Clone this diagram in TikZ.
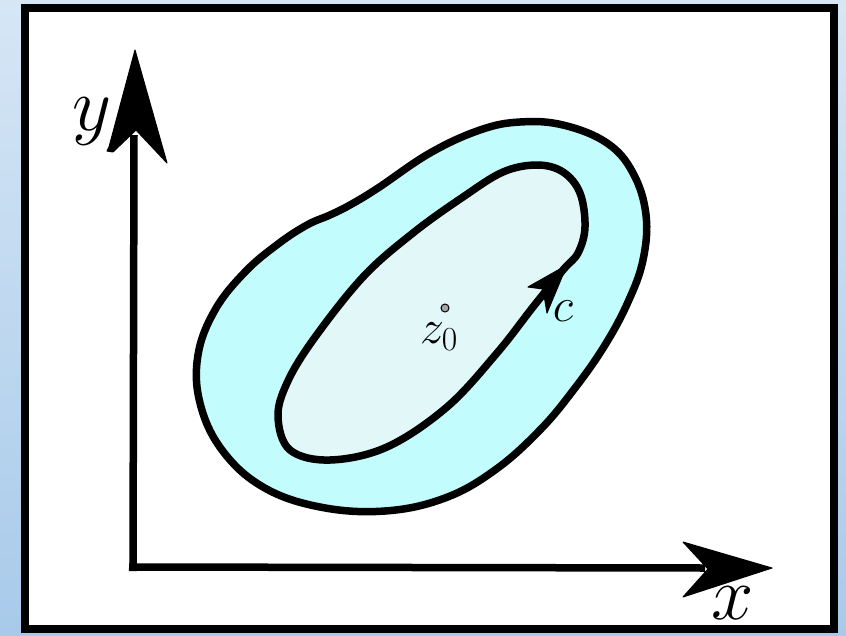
\documentclass[tikz,border=0pt]{standalone}
\usepackage{fix-cm}
\definecolor{bgtop}{RGB}{214,230,245}
\definecolor{bgbot}{RGB}{168,202,234}
\definecolor{bandfill}{RGB}{194,252,252}
\definecolor{corefill}{RGB}{226,247,248}
\tikzset{
  blob/.style={draw=black, line width=7.5pt, line join=round},
  axis/.style={draw=black, line width=7.5pt},
  head/.style={fill=black, draw=black, line width=1pt, line join=round},
  lbl/.style={inner sep=0pt, outer sep=0pt}
}
\begin{document}
\begin{tikzpicture}[x=1pt,y=-1pt]
\useasboundingbox (0,0) rectangle (846,635);
\shade[top color=bgtop, bottom color=bgbot] (0,0) rectangle (846,635);
\draw[line width=8pt, fill=white] (24.5,8) rectangle (833.5,629);
% outer region
\path[blob, fill=bandfill] plot[smooth cycle, tension=0.65] coordinates {
 (307,225) (330,215) (350,205) (378,188) (430,153) (480,130) (520,122) (563,125)
 (607,143) (633,173) (646,215) (643,260) (628,302) (605,345) (575,388) (540,430)
 (495,470) (445,498) (385,511) (320,507) (263,487) (222,450) (200,403) (198,355)
 (215,310) (245,272) (278,244)};
% inner contour c
\path[blob, fill=corefill] plot[smooth cycle, tension=0.6] coordinates {
 (537,165) (563,172) (580,193) (585,227) (578,253) (563,270) (533,307) (497,353)
 (447,407) (387,447) (330,460) (290,450) (278,417) (287,383) (313,340) (363,277)
 (413,233) (463,197) (503,172)};
% arrow head on c
\path[head] (567,265) -- (528,287) -- (543,289) -- (547,313) -- cycle;
% axes
\coordinate (O) at (133,567);
\coordinate (ytip) at (135,50);
\coordinate (xtip) at (772,568);
\draw[axis] (133,571) -- (134,135);
\draw[axis] (129,567) -- (705,568);
\path[head] (ytip) -- (109,147) -- (107,151) -- (113,152) -- (136,130) -- (167,163) -- cycle;
\path[head] (xtip) -- (683,542) -- (708,569) -- (683,597) -- cycle;
% labels
\node[lbl] (ylab) at (92,122) {\fontsize{76}{76}\selectfont $y$};
\node[lbl] (xlab) at (733,603) {\fontsize{76}{76}\selectfont $x$};
\node[lbl] (clab) at (563,311) {\fontsize{48}{48}\selectfont $c$};
\node[lbl, anchor=base west] (zlab) at (420,343) {\fontsize{48}{48}\selectfont $z_0$};
\draw[fill=gray!70, line width=1pt] (445,308) circle (4);
\end{tikzpicture}
\end{document}
